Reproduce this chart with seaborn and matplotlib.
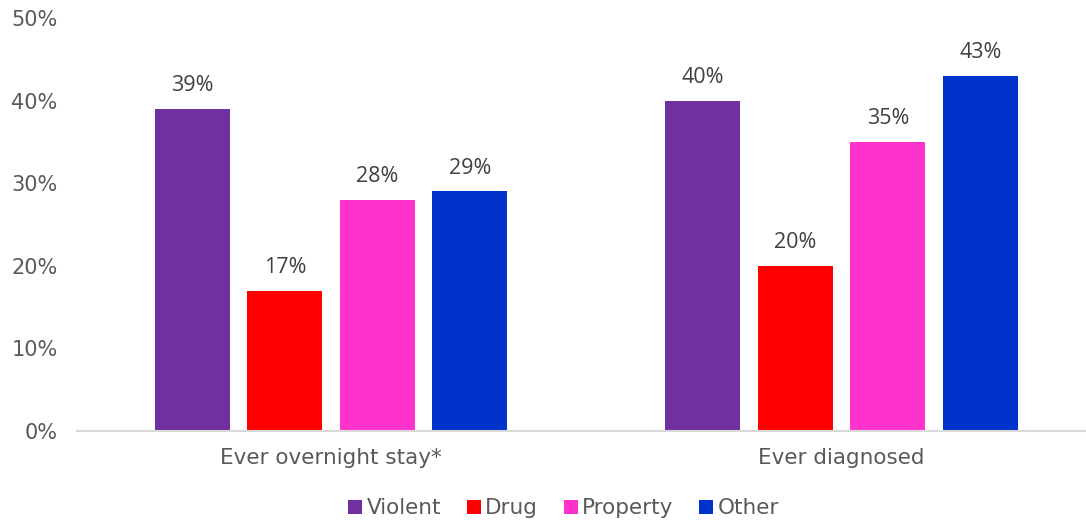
import matplotlib
matplotlib.use("Agg")
import matplotlib.pyplot as plt
from matplotlib.patches import Patch
import seaborn as sns
import pandas as pd

categories = ["Ever overnight stay*", "Ever diagnosed"]
offense_types = ["Violent", "Drug", "Property", "Other"]
violent = [39, 40]
drug = [17, 20]
prop = [28, 35]
other = [29, 43]
yticks = [0, 10, 20, 30, 40, 50]
palette = ["#7030A0", "#FF0000", "#FF33CC", "#0033CC"]

rows = []
for name, vals in zip(offense_types, [violent, drug, prop, other]):
    for cat, v in zip(categories, vals):
        rows.append({"category": cat, "offense": name, "value": v})
df = pd.DataFrame(rows)

sns.set_theme(style="white")
plt.rcParams["font.family"] = ["DejaVu Sans"]

fig = plt.figure(figsize=(10.86, 5.23), dpi=100)
ax = fig.add_axes([0.0709, 0.1759, 0.9291, 0.7897])

sns.barplot(data=df, x="category", y="value", hue="offense",
            hue_order=offense_types, order=categories, palette=palette,
            width=0.725, gap=0.19, saturation=1, legend=False, ax=ax,
            errorbar=None, linewidth=0)

for container in ax.containers:
    ax.bar_label(container, labels=[f"{int(b.get_height())}%" for b in container],
                 padding=9, fontsize=15.5, color="#404040", family="Open Sans")

ax.set_ylim(0, 50)
ax.set_xlim(-0.498, 1.479)
ax.set_yticks(yticks)
ax.set_yticklabels([f"{t}%" for t in yticks], fontsize=15, color="#595959")
ax.tick_params(axis="x", labelsize=15.5, labelcolor="#595959", length=0, pad=12)
ax.tick_params(axis="y", length=0, pad=14)
ax.set_xlabel("")
ax.set_ylabel("")
for s in ["top", "right", "left"]:
    ax.spines[s].set_visible(False)
ax.spines["bottom"].set_color("#D9D9D9")
ax.spines["bottom"].set_linewidth(1.5)
ax.grid(False)

handles = [Patch(facecolor=c, edgecolor="none", label=l) for c, l in zip(palette, offense_types)]
fig.legend(handles=handles, loc="center", bbox_to_anchor=(0.519, 0.028), ncol=4,
           frameon=False, fontsize=15.5, handlelength=0.65, handleheight=0.65,
           handletextpad=0.2, columnspacing=1.2, labelcolor="#595959")

fig.savefig("out.png", dpi=100)
